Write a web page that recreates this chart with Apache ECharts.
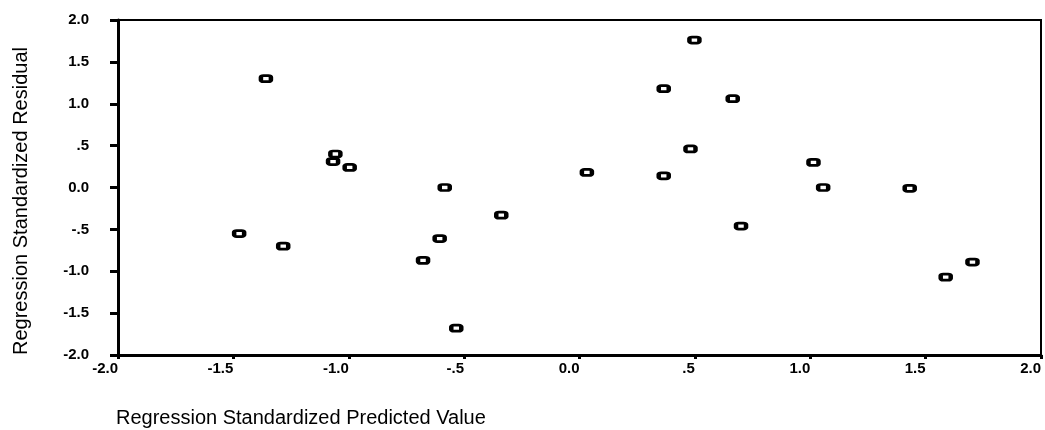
<!DOCTYPE html>
<html>
<head>
<meta charset="utf-8">
<script src="https://cdn.jsdelivr.net/npm/echarts@6/dist/echarts.min.js"></script>
<style>
html,body{margin:0;padding:0;background:#fff;}
#chart{width:1045px;height:430px;}
</style>
</head>
<body>
<div id="chart"></div>
<script>
// Standardized predicted values (x) and standardized residuals (y)
var predicted = [-1.475, -1.359, -1.284, -1.058, -1.068, -0.996, -0.678, -0.606, -0.584, -0.534, -0.339,
                 0.032, 0.365, 0.365, 0.481, 0.498, 0.664, 0.700, 1.014, 1.056, 1.431, 1.587, 1.703];
var residual  = [-0.55, 1.30, -0.70, 0.40, 0.31, 0.24, -0.87, -0.61, 0.00, -1.68, -0.33,
                 0.18, 1.18, 0.14, 0.46, 1.76, 1.06, -0.46, 0.30, 0.00, -0.01, -1.07, -0.89];
var tickValues = [-2, -1.5, -1, -0.5, 0, 0.5, 1, 1.5, 2];
var tickLabels = ['-2.0', '-1.5', '-1.0', '-.5', '0.0', '.5', '1.0', '1.5', '2.0'];
var xTitle = 'Regression Standardized Predicted Value';
var yTitle = 'Regression Standardized Residual';

function fmt(v) {
  for (var i = 0; i < tickValues.length; i++) {
    if (Math.abs(tickValues[i] - v) < 1e-9) return tickLabels[i];
  }
  return '';
}

var points = predicted.map(function (x, i) { return [x, residual[i]]; });
var font = 'Arial, "Liberation Sans", sans-serif';

var chart = echarts.init(document.getElementById('chart'), null, {renderer: 'canvas'});
chart.setOption({
  animation: false,
  backgroundColor: '#ffffff',
  title: {
    text: xTitle,
    left: 116,
    top: 408,
    padding: 0,
    textStyle: {fontFamily: font, fontSize: 20, fontWeight: 'normal', color: '#000'}
  },
  graphic: [{
    type: 'text',
    x: 21, y: 201,
    rotation: Math.PI / 2,
    style: {
      text: yTitle, align: 'center', verticalAlign: 'middle',
      font: 'normal 20px Arial, "Liberation Sans", sans-serif', fill: '#000'
    }
  }],
  grid: {
    left: 118, top: 20, right: 4, bottom: 75,
    show: true, borderColor: '#000', borderWidth: 2, backgroundColor: 'transparent'
  },
  xAxis: {
    type: 'value', min: -2, max: 2, interval: 0.5,
    axisLine: {show: true, onZero: false, lineStyle: {color: '#000', width: 3}},
    axisTick: {show: true, inside: false, length: 4, lineStyle: {color: '#000', width: 3}},
    splitLine: {show: false},
    axisLabel: {
      formatter: fmt, align: 'right', margin: 6,
      fontFamily: font, fontSize: 15, fontWeight: 'bold', color: '#000'
    }
  },
  yAxis: {
    type: 'value', min: -2, max: 2, interval: 0.5,
    axisLine: {show: true, onZero: false, lineStyle: {color: '#000', width: 3}},
    axisTick: {show: true, inside: false, length: 8, lineStyle: {color: '#000', width: 3}},
    splitLine: {show: false},
    axisLabel: {
      formatter: fmt, margin: 29,
      fontFamily: font, fontSize: 15, fontWeight: 'bold', color: '#000'
    }
  },
  series: [{
    type: 'scatter',
    data: points,
    symbol: 'roundRect',
    symbolSize: [10, 6],
    itemStyle: {color: '#fff', borderColor: '#000', borderWidth: 3.5, opacity: 1}
  }]
});
</script>
</body>
</html>
